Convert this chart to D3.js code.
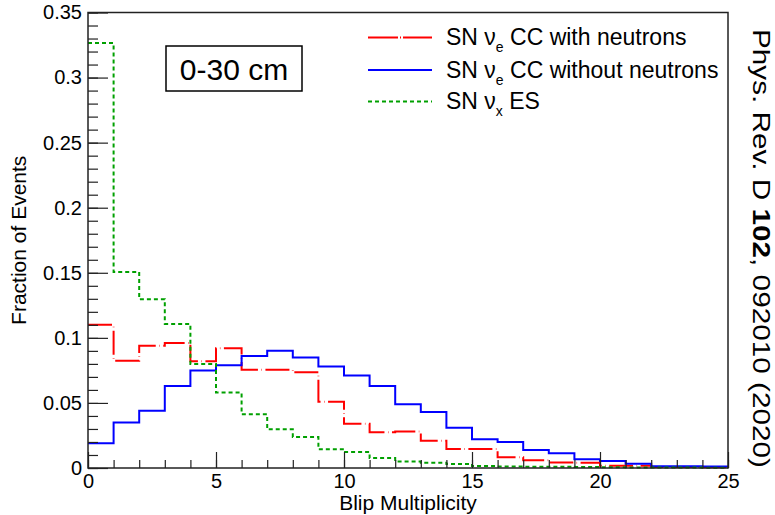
<!DOCTYPE html>
<html lang="en">
<head>
    <meta charset="UTF-8">
    <title>Blip Multiplicity</title>
    <script src="https://d3js.org/d3.v7.min.js"></script>
    <style>
        body { margin: 0; background: #fff; }
        text { font-family: "Liberation Sans", Arial, sans-serif; fill: #000; }
    </style>
</head>
<body>
    <svg id="chart" width="775" height="515"></svg>
    <script>
        // bins 0..24, one value per unit of blip multiplicity
        const binEdges = d3.range(0, 26);
        const withNeutrons = [0.110, 0.0825, 0.094, 0.096, 0.082, 0.092, 0.0755, 0.0755, 0.0735, 0.051, 0.034, 0.0275,
            0.028, 0.021, 0.0146, 0.0146, 0.0082, 0.006, 0.0042, 0.004, 0.0018, 0.0017, 0.0008, 0.0007, 0.0006];
        const withoutNeutrons = [0.019, 0.035, 0.044, 0.063, 0.075, 0.079, 0.086, 0.090, 0.085, 0.078, 0.071, 0.063,
            0.049, 0.043, 0.031, 0.022, 0.020, 0.0138, 0.0113, 0.0067, 0.0054, 0.0033, 0.0014, 0.0013, 0.0012];
        const esValues = [0.3265, 0.1507, 0.1297, 0.1107, 0.080, 0.058, 0.0413, 0.0297, 0.0238, 0.0144, 0.0123, 0.0077,
            0.005, 0.004, 0.003, 0.0015, 0.0012, 0.001, 0.001, 0.0008, 0.0005, 0.0004, 0.0003, 0.0003, 0.0002];

        const xTicks = [0, 5, 10, 15, 20, 25];
        const yTicks = [0, 0.05, 0.1, 0.15, 0.2, 0.25, 0.3, 0.35];
        const yTickLabels = ["0", "0.05", "0.1", "0.15", "0.2", "0.25", "0.3", "0.35"];

        const series = [
            {name: "with neutrons", label: ["SN ν", "e", " CC with neutrons"], values: withNeutrons, color: "#ff0000",
                dash: "24 3.5 0.5 3.5", legendDash: "30 2 1 2"},
            {name: "without neutrons", label: ["SN ν", "e", " CC without neutrons"], values: withoutNeutrons, color: "#0000ff",
                dash: null, legendDash: null},
            {name: "ES", label: ["SN ν", "x", " ES"], values: esValues, color: "#00a000", dash: "4 3", legendDash: "4 3"}
        ];

        const svg = d3.select("#chart");
        const margin = {top: 12.5, right: 47, bottom: 47, left: 88};
        const width = +svg.attr("width") - margin.left - margin.right;
        const height = +svg.attr("height") - margin.top - margin.bottom;
        const g = svg.append("g").attr("transform", `translate(${margin.left},${margin.top})`);

        const x = d3.scaleLinear().domain([0, 25]).range([0, width]);
        const y = d3.scaleLinear().domain([0, 0.35]).range([height, 0]);

        // histograms as step lines
        const line = d3.line()
            .x(d => x(d[0]))
            .y(d => y(d[1]))
            .curve(d3.curveStepAfter);

        series.forEach(s => {
            const pts = binEdges.map((e, i) => [e, s.values[Math.min(i, s.values.length - 1)]]);
            g.append("path")
                .datum(pts)
                .attr("fill", "none")
                .attr("stroke", s.color)
                .attr("stroke-width", 2)
                .attr("stroke-dasharray", s.dash)
                .attr("d", line);
        });

        // axes, ROOT style ticks pointing inward
        const yMinor = g.append("g")
            .call(d3.axisLeft(y).tickValues(d3.range(0, 0.351, 0.01)).tickSizeInner(-10).tickSizeOuter(0).tickFormat(""));
        const yMajor = g.append("g")
            .call(d3.axisLeft(y).tickValues(yTicks).tickSizeInner(-20).tickSizeOuter(0).tickPadding(6)
                .tickFormat((d, i) => yTickLabels[i]));
        const xMinor = g.append("g")
            .attr("transform", `translate(0,${height})`)
            .call(d3.axisBottom(x).tickValues(d3.range(0, 26)).tickSizeInner(-8).tickSizeOuter(0).tickFormat(""));
        const xMajor = g.append("g")
            .attr("transform", `translate(0,${height})`)
            .call(d3.axisBottom(x).tickValues(xTicks).tickSizeInner(-16).tickSizeOuter(0).tickPadding(6));

        [yMinor, yMajor, xMinor, xMajor].forEach(a => {
            a.select(".domain").remove();
            a.selectAll(".tick line").attr("stroke", "#222").attr("stroke-width", 1.2);
            a.selectAll("text").style("font-size", "20px").attr("fill", "#000");
        });

        g.append("rect")
            .attr("width", width)
            .attr("height", height)
            .attr("fill", "none")
            .attr("stroke", "#222")
            .attr("stroke-width", 1.5);

        // axis titles
        svg.append("text")
            .attr("x", margin.left + width / 2)
            .attr("y", 510)
            .attr("text-anchor", "middle")
            .style("font-size", "21px")
            .text("Blip Multiplicity");

        svg.append("text")
            .attr("transform", `translate(26,${margin.top + height / 2}) rotate(-90)`)
            .attr("text-anchor", "middle")
            .style("font-size", "21px")
            .text("Fraction of Events");

        // region label box
        svg.append("rect")
            .attr("x", 166).attr("y", 46)
            .attr("width", 136).attr("height", 45)
            .attr("fill", "#fff")
            .attr("stroke", "#000")
            .attr("stroke-width", 1.5);
        svg.append("text")
            .attr("x", 234).attr("y", 80)
            .attr("text-anchor", "middle")
            .style("font-size", "30px")
            .text("0-30 cm");

        // legend
        const legend = svg.append("g");
        const rowY = [37.5, 70, 101.5];
        series.forEach((s, i) => {
            legend.append("line")
                .attr("x1", 368).attr("x2", 432)
                .attr("y1", rowY[i]).attr("y2", rowY[i])
                .attr("stroke", s.color)
                .attr("stroke-width", 2)
                .attr("stroke-dasharray", s.legendDash);
            const t = legend.append("text")
                .attr("x", 446).attr("y", rowY[i] + 7.5)
                .style("font-size", "23px");
            t.append("tspan").text(s.label[0]);
            t.append("tspan").attr("dy", 7).style("font-size", "14px").text(s.label[1]);
            t.append("tspan").attr("dy", -7).text(s.label[2]);
        });

        // journal reference, rotated
        const ref = svg.append("text")
            .attr("transform", "translate(753,29) rotate(90)")
            .attr("textLength", 439)
            .attr("lengthAdjust", "spacingAndGlyphs")
            .style("font-size", "24px");
        ref.append("tspan").text("Phys. Rev. D ");
        ref.append("tspan").style("font-weight", "bold").text("102");
        ref.append("tspan").text(", 092010 (2020)");
    </script>
</body>
</html>
